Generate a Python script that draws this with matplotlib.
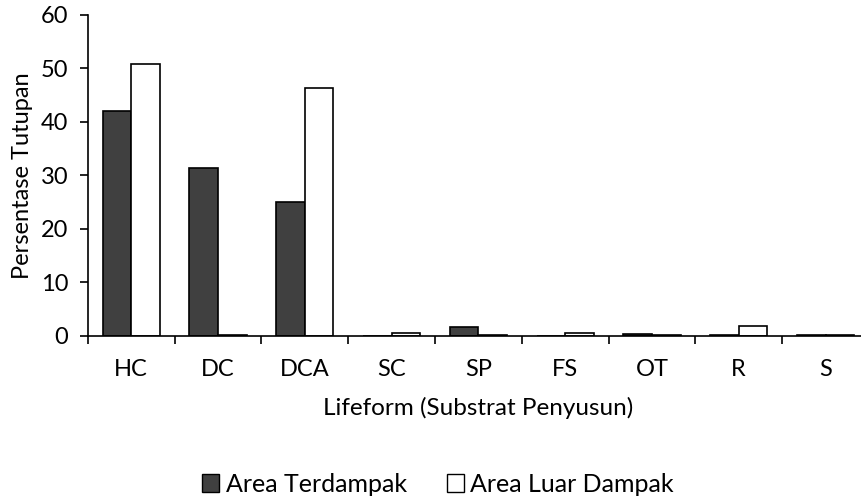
import matplotlib.pyplot as plt
import numpy as np
from matplotlib.patches import Patch

plt.rcParams['font.family'] = ['Lato', 'DejaVu Sans']

categories = ['HC', 'DC', 'DCA', 'SC', 'SP', 'FS', 'OT', 'R', 'S']
terdampak = [42.0, 31.3, 25.1, 0.0, 1.6, 0.0, 0.3, 0.2, 0.1]
luar_dampak = [50.8, 0.1, 46.3, 0.5, 0.1, 0.5, 0.15, 1.8, 0.1]

fig = plt.figure(figsize=(8.62, 4.99), dpi=100)
ax = fig.add_axes([0.102, 0.327, 0.906, 0.643])

x = np.arange(len(categories))
w = 0.33
ax.bar(x - w / 2, terdampak, w, color='#404040', edgecolor='black', linewidth=1.2)
ax.bar(x + w / 2, luar_dampak, w, color='white', edgecolor='black', linewidth=1.2)

ax.set_xlim(-0.5, len(categories) - 0.5)
ax.set_ylim(0, 60)
ax.set_yticks(range(0, 61, 10))
ax.set_xticks(x)
ax.set_xticklabels(categories)
ax.set_xticks(np.arange(-0.5, len(categories)), minor=True)
ax.tick_params(axis='x', which='major', length=0, pad=17, labelsize=17)
ax.tick_params(axis='x', which='minor', length=6, width=1.2, direction='out')
ax.tick_params(axis='y', length=6, width=1.2, direction='out', labelsize=17, pad=8)

for s in ['top', 'right']:
    ax.spines[s].set_visible(False)
for s in ['left', 'bottom']:
    ax.spines[s].set_linewidth(1.2)

ax.set_ylabel('Persentase Tutupan', fontsize=17, labelpad=6)
ax.set_xlabel('Lifeform (Substrat Penyusun)', fontsize=17.5, labelpad=12)

handles = [Patch(facecolor='#404040', edgecolor='black', label='Area Terdampak'),
           Patch(facecolor='white', edgecolor='black', label='Area Luar Dampak')]
fig.legend(handles=handles, loc='center', bbox_to_anchor=(0.508, 0.03), ncol=2,
           frameon=False, fontsize=18, handlelength=0.7, handleheight=0.7,
           handletextpad=0.25, columnspacing=1.6)

fig.savefig('out.png', dpi=100)
